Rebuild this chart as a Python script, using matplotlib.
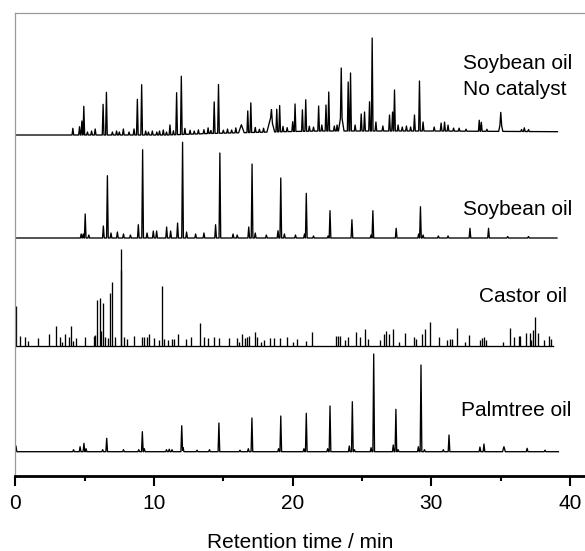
import numpy as np
import matplotlib
matplotlib.use("Agg")
import matplotlib.pyplot as plt

plt.rcParams['font.family'] = ['Liberation Sans', 'DejaVu Sans']

# Soybean oil, no catalyst: retention time (min) / peak height
nc_t = [4.15, 4.63, 4.8, 4.94, 5.2, 5.5, 5.76, 6.33, 6.57, 7.0, 7.3, 7.5, 7.79, 8.2, 8.56, 8.8, 9.11,
        9.4, 9.6, 9.88, 10.2, 10.4, 10.67, 10.9, 11.15, 11.4, 11.63, 11.97, 12.23, 12.6, 12.9, 13.2,
        13.6, 13.9, 14.1, 14.34, 14.65, 15.0, 15.3, 15.6, 15.9, 16.76, 16.98, 17.3, 17.6, 17.9,
        18.47, 18.85, 19.06, 19.3, 19.6, 20.0, 20.17, 20.7, 20.94, 21.2, 21.5, 21.87, 22.1, 22.4,
        22.6, 23.0, 23.2, 23.5, 24.0, 24.17, 24.5, 24.94, 25.18, 25.54, 25.73, 26.0, 26.5, 26.98,
        27.2, 27.34, 27.6, 27.9, 28.2, 28.5, 28.78, 29.14, 29.4, 30.2, 30.7, 30.95, 31.2, 31.6,
        32.0, 32.5, 33.45, 33.6, 34.0, 35.0, 36.5, 36.7, 37.0]
nc_h = [6.7, 8.3, 14, 28.7, 3, 4, 6, 30.7, 42.7, 3, 4, 3, 6, 3, 6, 35.7, 50.3,
        4, 3, 4, 3, 4, 5, 3, 10, 4, 42, 58.3, 6, 4, 3, 4,
        4, 5.7, 3, 31.5, 48.8, 3, 4, 3, 5, 21.7, 29.7, 5, 3, 4,
        10, 22.7, 26.3, 5.3, 4, 9.8, 27.5, 21.5, 31.5, 5, 4, 25, 6, 26,
        39, 5, 6, 45, 49, 58, 6, 17, 19, 29.3, 93, 9, 5, 16,
        19, 41, 6, 4, 5, 4, 16, 50, 9, 4, 8, 9, 6, 3,
        3, 2, 11, 9, 2, 9, 2, 3.7, 2]
# broad humps under some of the peaks
nc_broad_t = [16.3, 18.42, 23.5, 35.0]
nc_broad_h = [8, 15, 18, 10]
nc_broad_w = [0.2, 0.28, 0.2, 0.15]
nc_drift_t = [0, 11, 14, 17, 20, 22, 30, 39.1]
nc_drift = [0, 0, 1.5, 2.5, 3.5, 4, 4, 3.3]

# Soybean oil
sb_t = [4.75, 4.9, 5.04, 5.3, 6.35, 6.64, 6.9, 7.36, 7.8, 8.3, 8.87, 9.18, 9.5, 9.95, 10.19,
        10.91, 11.2, 11.7, 12.06, 12.35, 13.0, 13.6, 14.44, 14.75, 15.7, 16.0, 16.83, 17.07,
        17.3, 18.1, 18.94, 19.14, 19.4, 20.2, 20.85, 20.98, 21.5, 22.55, 22.69, 24.27, 25.65,
        25.78, 27.46, 29.08, 29.21, 29.4, 30.5, 31.2, 32.78, 34.12, 35.5, 37.0]
sb_h = [4, 4, 24, 3, 12, 62.3, 5, 6, 4, 3, 13.3, 88.3, 5, 7, 7,
        11, 7, 15, 95.7, 6, 4, 5, 13.3, 85, 4, 3, 11, 74,
        5, 3, 7.3, 60, 4, 3, 4, 44.7, 2, 2, 27.3, 18.3, 3,
        27.3, 9.7, 4, 31.3, 3, 2, 2, 9.7, 9.7, 1.5, 1.5]

# Castor oil
castor_t = [0.07, 0.31, 0.72, 0.89, 1.63, 2.45, 2.9, 3.19, 3.38, 3.6, 3.86, 4.0, 4.17, 4.39,
            5.04, 5.68, 5.75, 5.88, 6.1, 6.17, 6.35, 6.5, 6.7, 6.83, 6.95, 7.19, 7.6, 7.65,
            7.84, 8.06, 8.56, 9.11, 9.3, 9.5, 9.66, 10.0, 10.36, 10.55, 10.7, 11.03, 11.3,
            11.46, 11.75, 12.3, 12.64, 13.31, 13.58, 13.87, 14.34, 14.7, 15.42, 15.95, 16.14,
            16.31, 16.55, 16.72, 16.86, 17.27, 17.45, 17.75, 17.9, 18.38, 18.67, 19.06, 19.6,
            20.0, 20.31, 20.98, 21.39, 23.14, 23.24, 23.38, 23.8, 23.98, 24.53, 24.82, 25.18,
            25.42, 26.26, 26.6, 26.74, 26.92, 27.22, 27.64, 28.13, 28.72, 28.91, 29.33, 29.57,
            29.9, 30.58, 31.12, 31.31, 31.5, 31.85, 32.4, 32.69, 33.47, 33.62, 33.81, 33.96,
            35.13, 35.66, 35.98, 36.28, 36.4, 36.81, 37.08, 37.2, 37.29, 37.48, 37.68, 38.09,
            38.49, 38.61]
castor_h = [40, 10, 9, 5.3, 8.3, 11.7, 20, 9.3, 4.3, 11.7, 8.7, 20, 5.3, 8.3,
            8.7, 10, 11, 46, 48.3, 15, 42.7, 9.3, 7.7, 52.7, 64.3, 8.7, 76, 97,
            9.3, 7, 10, 9.3, 9.3, 9.3, 11.7, 7.7, 6, 60, 6.7, 6, 6.7,
            6.7, 11.7, 6.7, 9.3, 23.3, 9.3, 7.7, 9.3, 7.7, 7.7, 7.7, 4.3,
            12, 7.7, 8.7, 10, 14.3, 9.3, 4.3, 6, 7.7, 8.3, 8.3, 9.3,
            4.3, 6.7, 5, 14.3, 10, 10, 10, 6, 8.7, 13.7, 9.3, 16.7,
            6.7, 6, 11.7, 15.3, 11.7, 16.7, 4.3, 13.3, 9.3, 6.7, 12, 16.7,
            24.3, 8.7, 6, 6.7, 6.7, 18.3, 4.3, 11, 6, 7.7, 9.3, 6,
            4.3, 17.7, 9.3, 10, 10, 12.7, 13.3, 6, 16, 29.3, 13.3, 6,
            10, 6.7]

# Palmtree oil
palm_t = [0.05, 4.2, 4.67, 4.95, 5.1, 6.3, 6.59, 7.8, 8.9, 9.16, 9.3, 10.9, 11.1, 11.3, 12.0,
          12.1, 13.1, 14.0, 14.68, 16.2, 16.8, 17.06, 18.98, 19.14, 20.81, 20.98, 22.52, 22.69,
          24.08, 24.3, 24.45, 25.65, 25.84, 27.25, 27.44, 27.6, 29.06, 29.25, 29.5, 30.86,
          31.27, 33.5, 33.79, 35.23, 36.9, 38.19]
palm_h = [5.7, 2, 5, 8.4, 3, 2, 13.4, 2, 2, 20, 3, 2, 2.5, 2, 26,
          4, 1.5, 2, 28.7, 1.5, 3, 33.7, 3, 35.7, 3, 38.4, 3, 45.7,
          5.7, 50, 2, 4, 97.7, 6.7, 42.4, 2, 5, 86.7, 2, 2,
          16.7, 4.7, 7.7, 5, 3.4, 1.5]

labels = [['Soybean oil', 'No catalyst'], ['Soybean oil'], ['Castor oil'], ['Palmtree oil']]
offsets = [341, 238, 130, 24.3]


def trace(t, h, w, tmax):
    x = np.arange(0, tmax, 0.01)
    y = np.zeros_like(x)
    for ti, hi, wi in zip(t, h, w):
        y += hi * np.clip(1 - np.abs(x - ti) / wi, 0, None)
    return x, y


fig = plt.figure(figsize=(5.85, 5.51), dpi=100)
ax = fig.add_axes([15.3 / 585, 75 / 551, 1 - 15.3 / 585, 462.7 / 551])

lw = 0.95
# no catalyst
x, y = trace(nc_t + nc_broad_t, nc_h + nc_broad_h,
             [0.06] * len(nc_t) + nc_broad_w, 39.1)
ax.plot(x, y + np.interp(x, nc_drift_t, nc_drift) + offsets[0], color='black', lw=lw)
# soybean
x, y = trace(sb_t, sb_h, [0.06] * len(sb_t), 39.06)
ax.plot(x, y + offsets[1], color='black', lw=lw)
# castor as sticks
ax.plot([0, 38.8], [offsets[2], offsets[2]], color='black', lw=lw)
ax.vlines(castor_t, offsets[2], np.array(castor_h) + offsets[2], color='black', lw=lw)
# palm
pw = [0.06] * len(palm_t)
pw[palm_t.index(35.23)] = 0.1
x, y = trace(palm_t, palm_h, pw, 39.17)
ax.plot(x, y + offsets[3], color='black', lw=lw)

fs = 15
ax.text(32.28, 412, labels[0][0], fontsize=fs, va='center', ha='left')
ax.text(32.28, 386, labels[0][1], fontsize=fs, va='center', ha='left')
ax.text(32.28, 266, labels[1][0], fontsize=fs, va='center', ha='left')
ax.text(33.43, 179.3, labels[2][0], fontsize=fs, va='center', ha='left')
ax.text(32.13, 65.3, labels[3][0], fontsize=fs, va='center', ha='left')

ax.set_xlim(0, (585 - 15.3) / 13.87)
ax.set_ylim(0, 462.7)
ax.set_yticks([])
ax.set_xticks([0, 10, 20, 30, 40])
ax.set_xticks([5, 15, 25, 35], minor=True)
ax.tick_params(axis='x', which='major', direction='out', length=7.2, width=1.5,
               labelsize=15, pad=6)
ax.tick_params(axis='x', which='minor', direction='out', length=3.6, width=1.5)
ax.set_xlabel('Retention time / min', fontsize=15, labelpad=14)

ax.spines['right'].set_visible(False)
ax.spines['bottom'].set_linewidth(2)
for s in ['left', 'top']:
    ax.spines[s].set_color('#999999')
    ax.spines[s].set_linewidth(0.9)

fig.savefig('out.png', dpi=100)
